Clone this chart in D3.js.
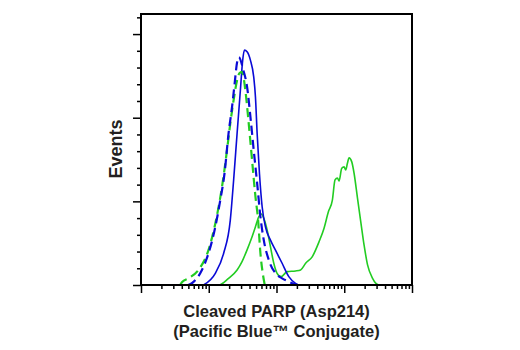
<!DOCTYPE html>
<html>
<head>
<meta charset="utf-8">
<script src="https://cdn.jsdelivr.net/npm/d3@7"></script>
<style>
  html, body { margin: 0; padding: 0; background: #fff; }
  svg { display: block; }
  .lbl { font-family: "Liberation Sans", Arial, Helvetica, sans-serif; font-weight: bold; fill: #231f20; }
</style>
</head>
<body>
<svg id="chart" width="520" height="350"></svg>
<script>
// Fluorescence intensity (log axis) and event counts for each histogram
const blueSolidX = [8.37, 12.5, 16.6, 20.8, 23.3, 26.2, 29.3, 31.7, 33.6, 36.8, 41.2, 46.1, 48.9, 51.8, 56.0, 61.4, 68.7, 81.5, 96.6, 121, 152, 191, 219, 10000];
const blueSolidY = [0, 35, 95, 194, 314, 453, 582, 672, 702, 697, 672, 622, 562, 453, 334, 234, 174, 134, 104, 65, 25, 5, 0, 0];

const blueDashX = [4.97, 5.70, 7.93, 9.93, 12.5, 14.8, 17.1, 19.6, 22.1, 24.1, 26.2, 27.8, 32.4, 36.8, 41.2, 46.1, 51.8, 57.9, 64.9, 76.9, 96.6, 121, 151, 191, 212];
const blueDashY = [0, 6, 45, 95, 174, 254, 334, 453, 533, 602, 666, 681, 642, 592, 503, 403, 304, 204, 134, 75, 35, 20, 10, 1, 0];

const greenDashX = [3.78, 4.05, 5.02, 7.06, 9.93, 12.5, 15.7, 18.6, 20.8, 23.3, 26.2, 28.3, 31.0, 34.7, 38.9, 43.6, 48.9, 53.5, 57.9, 62.7, 67.1];
const greenDashY = [0, 9, 20, 45, 105, 184, 294, 403, 483, 553, 612, 633, 637, 582, 483, 373, 264, 194, 95, 35, 0];

const greenSolidX = [1, 14.0, 19.6, 26.2, 31.0, 36.8, 43.6, 48.9, 54.7, 59.9, 64.9, 72.8, 81.5, 91.2, 102, 117, 144, 191, 227, 269, 338, 424, 502, 583, 668, 731, 793, 838, 918, 993, 1052, 1114, 1178, 1291, 1396, 1570, 1754, 1963, 2208, 2618, 2931, 3281, 10000];
const greenSolidY = [0, 0, 20, 45, 70, 105, 144, 174, 204, 212, 199, 164, 114, 65, 35, 25, 40, 42, 45, 65, 85, 129, 169, 219, 254, 314, 320, 311, 349, 353, 344, 364, 380, 368, 334, 259, 189, 119, 60, 20, 5, 0, 0];

// Axis ticks
const xMajorTicks = [1, 10, 100, 1000, 10000];
const xMinorTicks = [];
[1, 10, 100, 1000].forEach(d => { for (let m = 2; m <= 9; m++) xMinorTicks.push(d * m); });
const yMajorTicks = [0, 250, 500, 750];
const yMinorTicks = d3.range(50, 810, 50).filter(v => v % 250 !== 0);

const xLabelLines = ["Cleaved PARP (Asp214)", "(Pacific Blue\u2122 Conjugate)"];
const yLabel = "Events";

const blue = "#0a0ad6";
const green = "#22cc22";

const svg = d3.select("#chart");
const plotLeft = 141, plotRight = 412, plotTop = 14, plotBottom = 285;

const x = d3.scaleLog().domain([1, 10000]).range([plotLeft, plotRight]);
const y = d3.scaleLinear().domain([0, 810]).range([plotBottom, plotTop]);

const zip = (xs, ys) => xs.map((v, i) => [v, ys[i]]);
const line = d3.line().x(d => x(d[0])).y(d => y(d[1])).curve(d3.curveMonotoneX);

const plot = svg.append("g");
plot.append("path").datum(zip(greenSolidX, greenSolidY))
  .attr("d", line).attr("fill", "none").attr("stroke", green).attr("stroke-width", 1.6);
plot.append("path").datum(zip(blueSolidX, blueSolidY))
  .attr("d", line).attr("fill", "none").attr("stroke", blue).attr("stroke-width", 1.6);
plot.append("path").datum(zip(greenDashX, greenDashY))
  .attr("d", line).attr("fill", "none").attr("stroke", green).attr("stroke-width", 2.2)
  .attr("stroke-dasharray", "9,5");
plot.append("path").datum(zip(blueDashX, blueDashY))
  .attr("d", line).attr("fill", "none").attr("stroke", blue).attr("stroke-width", 2.2)
  .attr("stroke-dasharray", "9,5");

// Axes: major and minor ticks without labels
function styleAxis(g) {
  g.select(".domain").remove();
  g.selectAll(".tick line").attr("stroke", "#000").attr("stroke-width", 1.5);
  g.selectAll(".tick text").remove();
}
svg.append("g").attr("transform", `translate(0,${plotBottom})`)
  .call(d3.axisBottom(x).tickValues(xMajorTicks).tickSize(8).tickFormat(""))
  .call(styleAxis);
svg.append("g").attr("transform", `translate(0,${plotBottom})`)
  .call(d3.axisBottom(x).tickValues(xMinorTicks).tickSize(4).tickFormat(""))
  .call(styleAxis);
svg.append("g").attr("transform", `translate(${plotLeft},0)`)
  .call(d3.axisLeft(y).tickValues(yMajorTicks).tickSize(8).tickFormat(""))
  .call(styleAxis);
svg.append("g").attr("transform", `translate(${plotLeft},0)`)
  .call(d3.axisLeft(y).tickValues(yMinorTicks).tickSize(4).tickFormat(""))
  .call(styleAxis);

// Plot frame
svg.append("rect")
  .attr("x", plotLeft).attr("y", plotTop)
  .attr("width", plotRight - plotLeft).attr("height", plotBottom - plotTop)
  .attr("fill", "none").attr("stroke", "#000").attr("stroke-width", 2);

// Axis titles
const cx = (plotLeft + plotRight) / 2;
svg.append("text").attr("class", "lbl")
  .attr("x", cx).attr("y", 317).attr("text-anchor", "middle")
  .style("font-size", "16.5px").text(xLabelLines[0]);
svg.append("text").attr("class", "lbl")
  .attr("x", cx).attr("y", 337).attr("text-anchor", "middle")
  .style("font-size", "16.5px").text(xLabelLines[1]);
svg.append("text").attr("class", "lbl")
  .attr("transform", `translate(122,149) rotate(-90)`)
  .attr("text-anchor", "middle")
  .style("font-size", "18px").text(yLabel);
</script>
</body>
</html>
